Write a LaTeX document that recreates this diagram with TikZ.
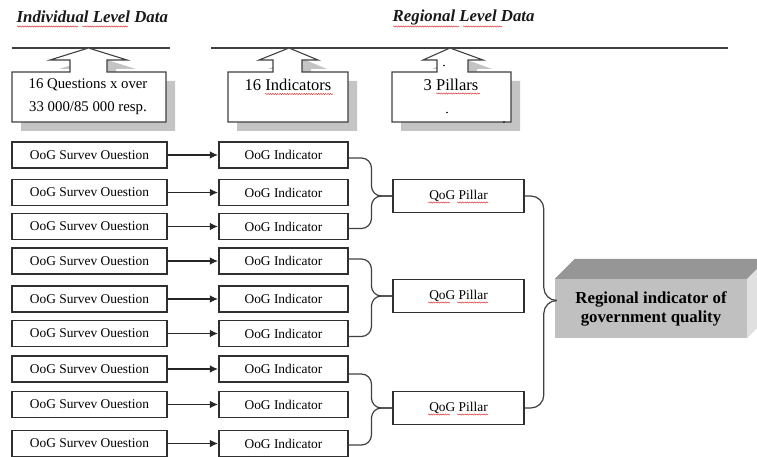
\documentclass[tikz,border=0pt]{standalone}
\usepackage{fontspec}
\setmainfont{Liberation Serif}
\usetikzlibrary{arrows.meta,decorations.pathmorphing}
\definecolor{lineg}{HTML}{404040}
\definecolor{boxline}{HTML}{303030}
\definecolor{shadowg}{HTML}{C4C4C4}
\definecolor{frontg}{HTML}{C0C0C0}
\definecolor{topg}{HTML}{969696}
\definecolor{sideg}{HTML}{E0E0E0}
\definecolor{spell}{HTML}{E03838}
% x1 x2 tip wingL wingR shaftL shaftR
\newcommand\mycallout[7]{%
  \begin{scope}[shift={(9,9)}]
    \fill[shadowg] (#1,72) -- (#6,72) -- (#6,60) -- (#4,60) -- (#3,48) -- (#5,60) -- (#7,60) -- (#7,72) -- (#2,72) -- (#2,122) -- (#1,122) -- cycle;
  \end{scope}
  \draw[calloutline] (#1,72) -- (#6,72) -- (#6,60) -- (#4,60) -- (#3,48) -- (#5,60) -- (#7,60) -- (#7,72) -- (#2,72) -- (#2,122) -- (#1,122) -- cycle;
}
\begin{document}
\begin{tikzpicture}[x=1pt,y=-1pt,
  hdr/.style={font=\fontsize{16.8}{18}\selectfont\bfseries\itshape, inner sep=0pt, text=black!90},
  hline/.style={draw=lineg, line width=1.3pt},
  calloutline/.style={draw=lineg, line width=1.1pt, fill=white, line join=miter},
  ctext/.style={font=\fontsize{16.5}{18}\selectfont, inner sep=0pt},
  ctextsmall/.style={font=\fontsize{14.8}{17}\selectfont, inner sep=0pt},
  smallbox/.style={draw=boxline, line width=1.1pt, fill=white, inner sep=0pt, minimum height=26pt, font=\fontsize{13.4}{15}\selectfont},
  qbox/.style={smallbox, minimum width=155pt},
  ibox/.style={smallbox, minimum width=129pt},
  pbox/.style={smallbox, minimum width=131pt, minimum height=33pt},
  arr/.style={draw=black!85, line width=1.3pt, -{Latex[length=8pt,width=7.5pt]}, shorten >=0.5pt},
  brace/.style={draw=lineg, line width=1.2pt, rounded corners=10pt},
  mainbox/.style={fill=frontg, minimum width=192pt, minimum height=59pt, inner sep=0pt, align=center, font=\fontsize{16.8}{19}\selectfont\bfseries},
  spellcheck/.style={draw=spell, line width=0.5pt, decorate, decoration={snake, amplitude=0.6pt, segment length=2.4pt}}
]
\useasboundingbox (0,0) rectangle (757,457);
\begin{scope}
\clip (0,0) rectangle (757,457);

% headers
\node[hdr, anchor=west] (h1) at (16.5,17) {Individual Level Data};
\node[hdr, anchor=west] (h2) at (392.5,17) {Regional Level Data};
\draw[spellcheck] (17,26.5) -- (78,26.5);
\draw[spellcheck] (82,26.5) -- (128,26.5);
\draw[spellcheck] (393,26.5) -- (459,26.5);
\draw[spellcheck] (463,26.5) -- (502,26.5);

% level lines
\draw[hline] (12,48) -- (170,48);
\draw[hline] (211,48) -- (728,48);

% callouts
\mycallout{12}{166}{88.5}{50}{127}{70}{107}
\mycallout{228}{348}{289}{259}{318}{273}{302}
\mycallout{392}{511}{450}{423}{483}{437}{468}
\node[ctextsmall] (c1a) at (88,85) {16 Questions x over};
\node[ctextsmall] (c1b) at (88,108) {33 000/85 000 resp.};
\node[ctext] (c2) at (288,85) {16 Indicators};
\node[ctext] (c3) at (451,85) {3 Pillars};
\draw[spellcheck] (265,94) -- (333,94);
\draw[spellcheck] (436,93.5) -- (480,93.5);
\fill[black] (444,65.5) circle (0.9pt);
\fill[black] (447,112.5) circle (0.9pt);
\fill[black] (504,122) circle (0.9pt);

% survey questions and indicators
\foreach \i/\y in {1/155,2/192.5,3/226.5,4/261,5/299,6/333.5,7/369,8/404.5,9/443.5}{
  \node[qbox] (q\i) at (89.5,\y) {OoG Survev Ouestion};
  \node[ibox] (i\i) at (283.5,\y) {OoG Indicator};
  \draw[arr] (q\i) -- (i\i);
}

% pillars
\node[pbox] (p1) at (458.5,196) {QoG Pillar};
\node[pbox] (p2) at (458.5,296) {QoG Pillar};
\node[pbox] (p3) at (458.5,408) {QoG Pillar};
\foreach \p/\yy in {1/202.5,2/302.5,3/414.5}{
  \draw[spellcheck] (428,\yy) -- (450,\yy);
  \draw[spellcheck] (457,\yy) -- (488,\yy);
}

% braces indicators -> pillars
\coordinate (b1) at ([xshift=-21pt]p1.west);
\coordinate (b2) at ([xshift=-21pt]p2.west);
\coordinate (b3) at ([xshift=-21pt]p3.west);
\draw[brace] ([yshift=-3pt]i1.east) -| (b1) -- (p1.west);
\draw[brace] ([yshift=-2pt]i3.east) -| (b1) -- (p1.west);
\draw[brace] ([yshift=2pt]i4.east) -| (b2) -- (p2.west);
\draw[brace] ([yshift=-3pt]i6.east) -| (b2) -- (p2.west);
\draw[brace] ([yshift=-5pt]i7.east) -| (b3) -- (p3.west);
\draw[brace] ([yshift=-1.5pt]i9.east) -| (b3) -- (p3.west);

% main 3D box
\node[mainbox] (R) at (651,308.5) {Regional indicator of\\government quality};
\fill[topg] (R.north west) -- (R.north east) -- ++(20,-20) -- ([shift={(20,-20)}]R.north west) -- cycle;
\fill[sideg] (R.north east) -- ++(20,-20) -- ++(0,59) -- (R.south east) -- cycle;

% brace pillars -> main box
\coordinate (mt) at ([yshift=8pt]R.west);
\coordinate (mb) at ([xshift=-11pt]mt);
\draw[brace, rounded corners=13pt] (p1.east) -| (mb) -- (mt);
\draw[brace, rounded corners=13pt] (p3.east) -| (mb) -- (mt);
\end{scope}
\end{tikzpicture}
\end{document}
